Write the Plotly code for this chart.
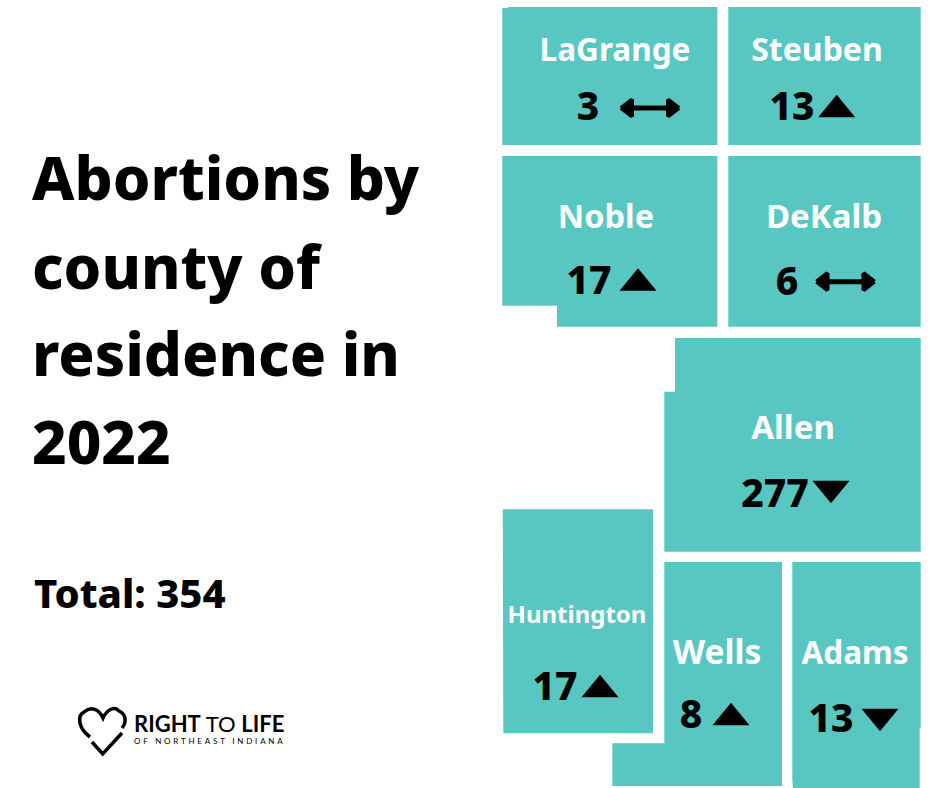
import plotly.graph_objects as go

counties = ['LaGrange', 'Steuben', 'Noble', 'DeKalb', 'Allen', 'Huntington', 'Wells', 'Adams']
counts = [3, 13, 17, 6, 277, 17, 8, 13]
trends = ['flat', 'up', 'up', 'flat', 'down', 'up', 'up', 'down']

title_lines = ['Abortions by', 'county of', 'residence in', '2022']
total_label = 'Total: 354'

TEAL = '#58c7c1'
FONT = 'Noto Sans'

# county outlines, in page pixels
outlines = [
    [(508, 7), (717.3, 7), (717.3, 145), (502.3, 145), (502.3, 8), (508, 8)],
    [(728.3, 7), (920.7, 7), (920.7, 145), (728.3, 145)],
    [(502.3, 156), (717.3, 156), (717.3, 326.7), (557, 326.7), (557, 305.7), (502.3, 305.7)],
    [(728.3, 156), (920.7, 156), (920.7, 326.7), (728.3, 326.7)],
    [(675, 338), (920.7, 338), (920.7, 551.7), (664.3, 551.7), (664.3, 391.7), (675, 391.7)],
    [(502.8, 509.3), (653, 509.3), (653, 733.3), (503.3, 733.3)],
    [(664.3, 562), (782, 562), (782, 786), (612.3, 786), (612.3, 743.3), (664.3, 743.3)],
    [(792.3, 562), (920.7, 562), (920.7, 727.7), (919.7, 727.7), (919.7, 788), (793, 788), (792.3, 780)],
]
name_pos = [(615, 53), (817, 53), (606, 219.5), (824, 219.5), (793, 431), (577, 617), (717, 656), (855, 656)]
name_size = [31.5, 32, 32.5, 33, 33, 24, 33.5, 31.5]
count_pos = [(588, 110.5), (792, 110), (589, 284), (787, 285), (775, 497), (555, 690), (691, 718), (831, 722)]
# centre of the trend marker
trend_pos = [(650, 108), (836.7, 106), (638, 279.5), (845.5, 281.7), (831, 492), (600, 686), (731, 714), (880, 720)]

fig = go.Figure()


def add_poly(xs, ys, width=0):
    fig.add_trace(go.Scatter(
        x=xs + [xs[0]],
        y=ys + [ys[0]],
        mode='lines',
        fill='toself',
        fillcolor='black',
        line=dict(color='black', width=width),
        hoverinfo='skip',
    ))


for outline in outlines:
    fig.add_trace(go.Scatter(
        x=[p[0] for p in outline] + [outline[0][0]],
        y=[p[1] for p in outline] + [outline[0][1]],
        mode='lines',
        fill='toself',
        fillcolor=TEAL,
        line=dict(color=TEAL, width=0),
        hoverinfo='skip',
    ))

fig.add_trace(go.Scatter(
    x=[p[0] for p in name_pos],
    y=[p[1] for p in name_pos],
    text=counties,
    mode='text',
    textposition='middle center',
    textfont=dict(family=FONT, size=name_size, color='white', weight=700),
    hoverinfo='skip',
))
fig.add_trace(go.Scatter(
    x=[p[0] for p in count_pos],
    y=[p[1] for p in count_pos],
    text=[str(c) for c in counts],
    mode='text',
    textposition='middle center',
    textfont=dict(family=FONT, size=39, color='black', weight=800),
    hoverinfo='skip',
))

# trend markers: triangles, or a double headed arrow when flat
for trend, (cx, cy) in zip(trends, trend_pos):
    if trend == 'up':
        add_poly([cx - 18.5, cx, cx + 18.5], [cy + 11.3, cy - 11.3, cy + 11.3])
    elif trend == 'down':
        add_poly([cx - 18.5, cx, cx + 18.5], [cy - 11.3, cy + 11.3, cy - 11.3])
    else:
        fig.add_trace(go.Scatter(
            x=[cx - 22, cx + 22],
            y=[cy, cy],
            mode='lines',
            line=dict(color='black', width=5),
            hoverinfo='skip',
        ))
        add_poly([cx - 29, cx - 18, cx - 18], [cy, cy - 8.5, cy + 8.5], width=4)
        add_poly([cx + 29, cx + 18, cx + 18], [cy, cy - 8.5, cy + 8.5], width=4)

# left hand side text
for line, y in zip(title_lines, [177, 266, 353, 441]):
    fig.add_annotation(x=30, y=y, text=line, showarrow=False, xanchor='left',
                       font=dict(family=FONT, size=60, color='black', weight=800))
fig.add_annotation(x=31.5, y=592, text=total_label, showarrow=False, xanchor='left',
                   font=dict(family=FONT, size=40, color='black', weight=800))

# logo
fig.add_shape(type='path',
              path='M 90 737 C 78 728 77 716 84 712 C 91 706 99 709 103 718 '
                   'C 107 709 115 706 119 711 C 126 714 127 722 122 728',
              line=dict(color='black', width=3.5), xref='x', yref='y')
fig.add_shape(type='path', path='M 92 742 L 102.7 754 L 122 733',
              line=dict(color='black', width=3.5), xref='x', yref='y')
fig.add_trace(go.Scatter(
    x=[134, 134],
    y=[726, 742],
    text=['<b>RIGHT</b> TO <b>LIFE</b>', 'OF NORTHEAST INDIANA'],
    mode='text',
    textposition='middle right',
    textfont=dict(family='Lato', size=[22, 8], color='black'),
    hoverinfo='skip',
))

fig.update_layout(
    width=940,
    height=788,
    margin=dict(l=0, r=0, t=0, b=0),
    paper_bgcolor='white',
    plot_bgcolor='white',
    showlegend=False,
    xaxis=dict(range=[0, 940], visible=False),
    yaxis=dict(range=[788, 0], visible=False),
)

post = """
document.body.style.margin = '0';
document.querySelectorAll('text').forEach(function (t) {
    if (t.textContent === 'OF NORTHEAST INDIANA') { t.style.letterSpacing = '2.8px'; }
});
"""
fig.write_html("out.html", post_script=post, config=dict(displayModeBar=False))
